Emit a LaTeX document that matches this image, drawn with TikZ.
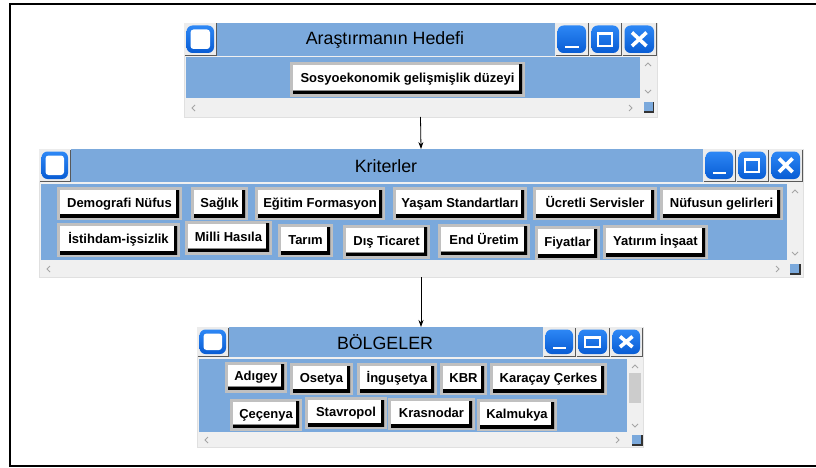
\documentclass[tikz,border=0pt]{standalone}
\usepackage{fontspec}
\setmainfont{Liberation Sans}
\usetikzlibrary{arrows.meta,calc}
\definecolor{winblue}{RGB}{123,169,220}
\definecolor{tbblue}{RGB}{20,112,232}
\definecolor{tbtop}{RGB}{45,135,245}
\definecolor{tbbot}{RGB}{8,92,212}
\definecolor{scrollbg}{RGB}{240,240,240}
\definecolor{btngray}{RGB}{192,192,192}
\definecolor{cellgray}{RGB}{236,236,236}
\definecolor{chev}{RGB}{165,165,165}
\newcommand\wtbcell[4]{\fill[cellgray] (#1,#2) rectangle (#3,#4);
  \draw[black!65, line width=1] (#1+0.5,#4-0.5) -- (#3-0.5,#4-0.5) -- (#3-0.5,#2+0.5);}
\newcommand\wtbface[4]{\shade[top color=tbtop, bottom color=tbbot, rounded corners=6] (#1+2.5,#2+2.5) rectangle (#3-3,#4-3);}
\newcommand\wtbicon[4]{\wtbcell{#1}{#2}{#3}{#4}\wtbface{#1}{#2}{#3}{#4}
  \fill[white, rounded corners=3] (#1+6.5,#2+6.5) rectangle (#3-7,#4-7);}
\newcommand\wtbmin[4]{\wtbcell{#1}{#2}{#3}{#4}\wtbface{#1}{#2}{#3}{#4}
  \draw[white, line width=2.5] (#1+10,#4-9) -- (#3-10,#4-9);}
\newcommand\wtbmax[4]{\wtbcell{#1}{#2}{#3}{#4}\wtbface{#1}{#2}{#3}{#4}
  \draw[white, line width=1.8] (#1+9,#2+10) rectangle (#3-10,#4-10);
  \draw[white, line width=3] (#1+9,#2+10.5) -- (#3-10,#2+10.5);}
\newcommand\wtbclose[4]{\wtbcell{#1}{#2}{#3}{#4}\wtbface{#1}{#2}{#3}{#4}
  \draw[white, line width=3.6] (#1+10,#2+9.5) -- (#3-10.5,#4-10) (#1+10,#4-10) -- (#3-10.5,#2+9.5);}
\newcommand\wvscroll[3]{\draw[chev, line width=0.9] (#1-3,#2+9) -- (#1,#2+6) -- (#1+3,#2+9);
  \draw[chev, line width=0.9] (#1-3,#3-8) -- (#1,#3-5) -- (#1+3,#3-8);}
\newcommand\whscroll[3]{\draw[chev, line width=0.9] (#2+9,#1-3) -- (#2+6,#1) -- (#2+9,#1+3);
  \draw[chev, line width=0.9] (#3-9,#1-3) -- (#3-6,#1) -- (#3-9,#1+3);}
\newcommand\wgrip[4]{\fill[winblue] (#1,#2) rectangle (#3,#4);
  \draw[black!80, line width=1.3] (#1,#4) -- (#3,#4) -- (#3,#2);}
\tikzset{
  win/.style={fill=scrollbg, draw=black!12, line width=0.6, inner sep=0, outer sep=0},
  titletext/.style={font=\fontsize{17.8}{20}\selectfont, text=black, inner sep=0},
  btn/.style={fill=white, inner sep=0, font=\fontsize{13}{15}\selectfont\bfseries,
    text height=9.5, text depth=2.5,
    preaction={draw=btngray, line width=6},
    path picture={
      \draw[black!45, line width=7] ([xshift=-60]path picture bounding box.south west) -- (path picture bounding box.south east) -- ([yshift=60]path picture bounding box.north east);
      \draw[black, line width=5.5] ([xshift=-60]path picture bounding box.south west) -- (path picture bounding box.south east) -- ([yshift=60]path picture bounding box.north east);}},
  flow/.style={-{Stealth[length=7,width=5]}, line width=0.8, black},
}
\begin{document}
\begin{tikzpicture}[x=1pt,y=-1pt]
\useasboundingbox (0,0) rectangle (816,468);
\fill[white] (0,0) rectangle (816,468);
\draw[line width=2.2] (816,4) -- (10,4) -- (10,466) -- (816,466);

% ---------- window 1
\node[win, minimum width=473, minimum height=94] (w1) at (420.5,70) {};
\fill[winblue] (217,23) rectangle (555,56);
\fill[winblue] (186,57) rectangle (640,98);
\wtbicon{184}{23}{217}{56}
\wtbmin{555}{23}{589}{56}
\wtbmax{589}{23}{622}{56}
\wtbclose{622}{23}{657}{56}
\wvscroll{648}{57}{98}
\whscroll{108}{186}{638}
\wgrip{644}{102}{653.5}{112}
\node[titletext] (t1) at (385,40) {Araştırmanın Hedefi};
\node[btn, minimum width=229, minimum height=29] (b0) at (407.5,79.5) {Sosyoekonomik gelişmişlik düzeyi};

% ---------- window 2
\node[win, minimum width=764, minimum height=128] (w2) at (421,213) {};
\fill[winblue] (71,149) rectangle (703,182);
\fill[winblue] (41,184) rectangle (787,260);
\wtbicon{39}{149}{71}{182}
\wtbmin{703}{149}{736}{182}
\wtbmax{736}{149}{769}{182}
\wtbclose{769}{149}{803}{182}
\wvscroll{795}{184}{260}
\whscroll{269}{41}{785}
\wgrip{790}{264}{800}{274}
\node[titletext] (t2) at (386,166) {Kriterler};
\node[btn, minimum width=119, minimum height=27] (k1) at (119.5,203.5) {Demografi Nüfus};
\node[btn, minimum width=51, minimum height=27] (k2) at (219.5,203.5) {Sağlık};
\node[btn, minimum width=124, minimum height=27] (k3) at (320,203.5) {Eğitim Formasyon};
\node[btn, minimum width=128, minimum height=27] (k4) at (460,203.5) {Yaşam Standartları};
\node[btn, minimum width=118, minimum height=27] (k5) at (595,203.5) {Ücretli Servisler};
\node[btn, minimum width=117, minimum height=27] (k6) at (721.5,203.5) {Nüfusun gelirleri};
\node[btn, minimum width=117, minimum height=28] (k7) at (118.5,240) {İstihdam-işsizlik};
\node[btn, minimum width=81, minimum height=28] (k8) at (228.5,237.5) {Milli Hasıla};
\node[btn, minimum width=49, minimum height=27] (k9) at (305.5,240.5) {Tarım};
\node[btn, minimum width=81, minimum height=28] (k10) at (386.5,241.5) {Dış Ticaret};
\node[btn, minimum width=86, minimum height=28] (k11) at (484,240.5) {End Üretim};
\node[btn, minimum width=59, minimum height=28] (k12) at (567.5,243) {Fiyatlar};
\node[btn, minimum width=99, minimum height=28] (k13) at (655.5,242) {Yatırım İnşaat};

% ---------- window 3
\node[win, minimum width=446, minimum height=120] (w3) at (420,387) {};
\fill[winblue] (229,327) rectangle (543,357);
\fill[winblue] (199,359) rectangle (627,432);
\fill[black!20] (629,373) rectangle (641,403);
\wtbicon{197}{327}{229}{357}
\wtbmin{543}{327}{576}{357}
\wtbmax{576}{327}{610}{357}
\wtbclose{610}{327}{643}{357}
\wvscroll{635}{359}{432}
\whscroll{440}{199}{625}
\wgrip{632}{435}{642}{445}
\node[titletext] (t3) at (385,342.5) {BÖLGELER};
\node[btn, minimum width=56, minimum height=25] (r1) at (256,377) {Adıgey};
\node[btn, minimum width=57, minimum height=26] (r2) at (321.5,379) {Osetya};
\node[btn, minimum width=74, minimum height=26] (r3) at (397,379) {İnguşetya};
\node[btn, minimum width=41, minimum height=26] (r4) at (463.5,379) {KBR};
\node[btn, minimum width=111, minimum height=26] (r5) at (548.5,379) {Karaçay Çerkes};
\node[btn, minimum width=66, minimum height=26] (r6) at (266,414.5) {Çeçenya};
\node[btn, minimum width=76, minimum height=26] (r7) at (346,413) {Stavropol};
\node[btn, minimum width=81, minimum height=26] (r8) at (431.5,414) {Krasnodar};
\node[btn, minimum width=74, minimum height=26] (r9) at (517,415) {Kalmukya};

% ---------- connectors
\draw[flow] (w1.south) -- (w2.north);
\draw[flow] (w2.south) -- (w2.south |- w3.north);
\end{tikzpicture}
\end{document}
